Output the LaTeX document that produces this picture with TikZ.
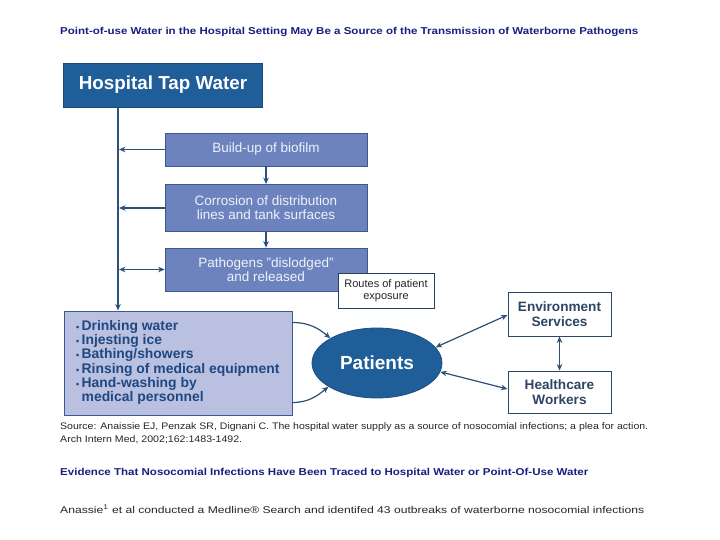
\documentclass[tikz,border=0pt]{standalone}
\usepackage{fontspec}
\setmainfont{Liberation Sans}
\usetikzlibrary{shapes.geometric,arrows.meta}
\definecolor{navy}{RGB}{26,30,128}
\definecolor{hospblue}{RGB}{31,94,153}
\definecolor{procfill}{RGB}{108,131,189}
\definecolor{procline}{RGB}{60,90,145}
\definecolor{bulfill}{RGB}{186,192,223}
\definecolor{bultext}{RGB}{30,72,130}
\definecolor{linecol}{RGB}{44,80,120}
\definecolor{wbox}{RGB}{45,70,100}
\definecolor{proctext}{RGB}{240,242,250}
\begin{document}
\begin{tikzpicture}[x=1pt,y=-1pt,
  every node/.style={inner sep=0pt},
  hospbox/.style={draw=hospblue!80!black,line width=0.8pt,fill=hospblue,text=white,
    minimum width=199pt,minimum height=44pt,font=\fontsize{18.8}{20}\selectfont\bfseries},
  procbox/.style={draw=procline,line width=0.8pt,fill=procfill,text=proctext,align=center,
    minimum width=202pt,font=\fontsize{13.5}{14}\selectfont},
  whitebox/.style={draw=wbox,line width=1pt,fill=white,text=wbox,align=center,
    minimum width=103pt,font=\fontsize{13.6}{14.5}\selectfont\bfseries},
  arr/.style={draw=linecol,line width=1.2pt,-{Stealth[length=6.5pt,width=5.5pt]}},
  darr/.style={draw=linecol,line width=1.2pt,{Stealth[length=6.5pt,width=5.5pt]}-{Stealth[length=6.5pt,width=5.5pt]}},
  headline/.style={anchor=west,text=navy,font=\fontsize{10}{12}\selectfont\bfseries},
  plain/.style={anchor=west,text=black!85,font=\fontsize{9.5}{12}\selectfont}]
\useasboundingbox[fill=white] (0,0) rectangle (720,540);

% header text
\node[headline] (title) at (60,32) {\resizebox{578pt}{\height}{Point-of-use Water in the Hospital Setting May Be a Source of the Transmission of Waterborne Pathogens}};

% main boxes
\node[hospbox] (hosp) at (163,85) {Hospital Tap Water};
\node[procbox,minimum height=33pt] (bio) at (266,149.5) {Build-up of biofilm};
\node[procbox,minimum height=47pt] (corr) at (266,208) {Corrosion of distribution\\lines and tank surfaces};
\node[procbox,minimum height=43pt] (path) at (266,269.5) {Pathogens "dislodged"\\and released};
\node[draw=wbox!90!black,line width=1pt,fill=white,text=black!85,align=center,
  minimum width=96pt,minimum height=35pt,font=\fontsize{11}{11.5}\selectfont] (routes) at (386,290.5) {Routes of patient\\exposure};

\node[draw=procline,line width=1pt,fill=bulfill,minimum width=228pt,minimum height=104pt] (bul) at (178,363) {};
\node[anchor=west,align=left,text=bultext,font=\fontsize{13.9}{14.2}\selectfont\bfseries] (bullist) at (76,362.5)
  {{\small\textbullet}\,Drinking water\\{\small\textbullet}\,Injesting ice\\{\small\textbullet}\,Bathing/showers\\{\small\textbullet}\,Rinsing of medical equipment\\{\small\textbullet}\,Hand-washing by\\\phantom{{\small\textbullet}\,}medical personnel};

\node[ellipse,draw=hospblue!85!black,line width=0.8pt,fill=hospblue,text=white,minimum width=130pt,minimum height=70pt,
  font=\fontsize{19}{20}\selectfont\bfseries] (pat) at (377,363) {Patients};

\node[whitebox,minimum height=44pt] (env) at (559.5,314) {Environment\\Services};
\node[whitebox,minimum height=42pt] (hw) at (559.5,392) {Healthcare\\Workers};

% connectors
\coordinate (vx) at (118,0);
\draw[arr,line width=1.5pt] (hosp.south -| vx) -- (bul.north -| vx);
\draw[arr] (bio.west) -- ([xshift=1pt]bio.west -| vx);
\draw[arr] (corr.west) -- ([xshift=1pt]corr.west -| vx);
\draw[darr] (path.west) -- ([xshift=1pt]path.west -| vx);
\draw[arr] (bio.south) -- (corr.north);
\draw[arr] (corr.south) -- (path.north);

\draw[arr] ([yshift=-12pt]bul.north east) to[out=0,in=140] (pat.152);
\draw[arr] ([yshift=13pt]bul.south east) to[out=0,in=-140] (pat.206);
\draw[darr] (pat.15) -- ([yshift=-1pt]env.west);
\draw[darr] (pat.-8) -- ([yshift=3pt]hw.west);
\draw[darr] (env.south) -- (hw.north);

% footer texts
\node[plain] (src1) at (60,427) {\resizebox{588pt}{\height}{Source: Anaissie EJ, Penzak SR, Dignani C. The hospital water supply as a source of nosocomial infections; a plea for action.}};
\node[plain] (src2) at (60,440) {\resizebox{182pt}{\height}{Arch Intern Med, 2002;162:1483-1492.}};
\node[headline] (evid) at (60,473) {\resizebox{528pt}{\height}{Evidence That Nosocomial Infections Have Been Traced to Hospital Water or Point-Of-Use Water}};
\node[plain,font=\fontsize{9.8}{12}\selectfont] (anas) at (60,509) {\resizebox{584pt}{\height}{Anassie\textsuperscript{1} et al conducted a Medline® Search and identifed 43 outbreaks of waterborne nosocomial infections}};
\end{tikzpicture}
\end{document}
